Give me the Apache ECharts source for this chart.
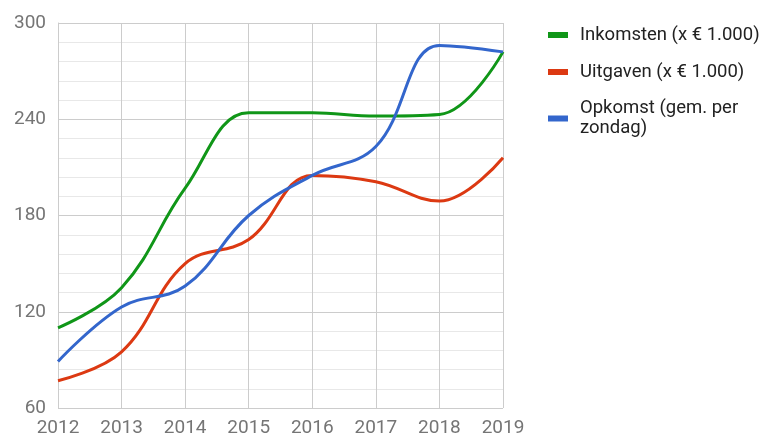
<!DOCTYPE html>
<html>
<head>
<meta charset="utf-8">
<script src="https://cdn.jsdelivr.net/npm/echarts@6/dist/echarts.min.js"></script>
<style>html,body{margin:0;padding:0;background:#fff}#c{width:759px;height:439px}</style>
</head>
<body>
<div id="c"></div>
<script>
const years = ['2012','2013','2014','2015','2016','2017','2018','2019'];
const inkomsten = [110, 135, 197, 244, 244, 242, 243, 282];
const uitgaven = [77, 95, 150, 165, 205, 201, 189, 216];
const opkomst = [89, 123, 136, 180, 205, 223, 286, 282];
const seriesNames = ['Inkomsten (x € 1.000)', 'Uitgaven (x € 1.000)', 'Opkomst (gem. per zondag)'];
const colors = ['#109618', '#dc3912', '#3366cc'];

const chart = echarts.init(document.getElementById('c'));
const font = 'Roboto, "Noto Sans", sans-serif';
const mk = (name, data, color) => ({
  name, type: 'line', data, smooth: 0.4, showSymbol: false, symbol: 'none',
  lineStyle: { width: 3, color }, itemStyle: { color }
});
chart.setOption({
  animation: false,
  color: colors,
  grid: { left: 58, right: 256, top: 23, bottom: 31 },
  legend: {
    orient: 'vertical', left: 543, top: 20, itemWidth: 20, itemHeight: 6, itemGap: 17,
    icon: 'rect',
    textStyle: { fontFamily: font, fontSize: 18.5, color: '#222', lineHeight: 20, padding: [0, 0, 0, 7] },
    data: [
      { name: seriesNames[0] },
      { name: seriesNames[1] },
      { name: seriesNames[2], textStyle: { padding: [0, 0, -20, 7] } }
    ],
    formatter: n => n === seriesNames[2] ? 'Opkomst (gem. per\nzondag)' : n
  },
  xAxis: {
    type: 'category', data: years, boundaryGap: false,
    axisLine: { show: false }, axisTick: { show: false },
    axisLabel: { fontFamily: font, fontSize: 19, color: '#757575', margin: 11 },
    splitLine: { show: true, lineStyle: { color: '#cccccc', width: 1 } }
  },
  yAxis: {
    type: 'value', min: 60, max: 300, interval: 60,
    axisLine: { show: true, lineStyle: { color: '#cccccc' } }, axisTick: { show: false },
    axisLabel: { fontFamily: font, fontSize: 19, color: '#757575', margin: 12 },
    splitLine: { lineStyle: { color: '#cccccc', width: 1 } },
    minorTick: { show: false, splitNumber: 5 },
    minorSplitLine: { show: true, lineStyle: { color: '#e8e8e8', width: 1 } }
  },
  series: [
    mk(seriesNames[0], inkomsten, colors[0]),
    mk(seriesNames[1], uitgaven, colors[1]),
    mk(seriesNames[2], opkomst, colors[2])
  ]
});
</script>
</body>
</html>
